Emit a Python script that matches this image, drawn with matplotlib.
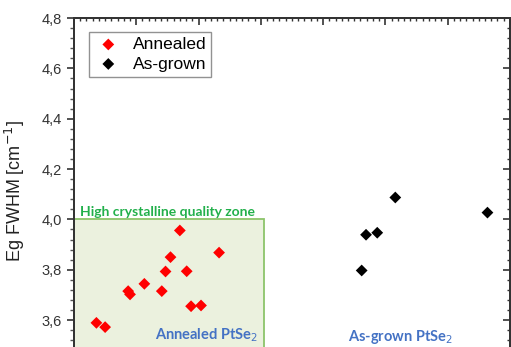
import matplotlib.pyplot as plt
from matplotlib.patches import Rectangle
from matplotlib.ticker import MultipleLocator, AutoMinorLocator, FuncFormatter

# annealed samples (red)
annealed_x = [0.36, 0.50, 0.87, 0.90, 1.13, 1.41, 1.47, 1.55, 1.70, 1.81, 1.88, 2.04, 2.33]
annealed_y = [3.589, 3.572, 3.715, 3.702, 3.744, 3.715, 3.793, 3.850, 3.956, 3.794, 3.655, 3.658, 3.868]

# as-grown samples (black)
asgrown_x = [4.62, 4.69, 4.87, 5.16, 6.64]
asgrown_y = [3.797, 3.939, 3.947, 4.087, 4.027]

zone_limit = 4.0
zone_xmax = 3.05

plt.rcParams['font.family'] = ['Liberation Sans', 'DejaVu Sans']

fig = plt.figure(figsize=(5.11, 3.47), dpi=100)
ax = fig.add_axes([0.1448, 0.0, 0.853, 0.948])

# high crystalline quality zone
ax.add_patch(Rectangle((0, 3.4), zone_xmax, zone_limit - 3.4,
                       facecolor='#ebf1de', edgecolor='#8cc46a', lw=1.3, zorder=1))

ax.scatter(annealed_x, annealed_y, marker='D', s=36, color='#ff0000',
           edgecolors='none', label='Annealed', zorder=3)
ax.scatter(asgrown_x, asgrown_y, marker='D', s=36, color='black',
           edgecolors='none', label='As-grown', zorder=3)

ax.set_xlim(0, 7)
ax.set_ylim(3.493, 4.8)

comma = FuncFormatter(lambda v, p: ('%.1f' % v).replace('.', ','))
ax.yaxis.set_major_locator(MultipleLocator(0.2))
ax.yaxis.set_minor_locator(AutoMinorLocator(5))
ax.yaxis.set_major_formatter(comma)
ax.xaxis.set_major_locator(MultipleLocator(1))
ax.xaxis.set_minor_locator(AutoMinorLocator(10))
ax.tick_params(axis='y', which='major', direction='out', length=5, width=1.2,
               labelsize=10.5, colors='#333333', labelcolor='#333333')
ax.tick_params(axis='y', which='minor', direction='out', length=3, width=1, colors='#555555')
ax.tick_params(axis='x', which='both', bottom=False, labelbottom=False,
               top=True, direction='in', colors='#333333')
ax.tick_params(axis='x', which='major', length=5, width=1.2)
ax.tick_params(axis='x', which='minor', length=2.5, width=1)

# mirrored right axis with inward ticks
ax2 = ax.twinx()
ax2.set_ylim(ax.get_ylim())
ax2.yaxis.set_major_locator(MultipleLocator(0.2))
ax2.yaxis.set_minor_locator(AutoMinorLocator(5))
ax2.tick_params(axis='y', which='both', direction='in', labelright=False, colors='#333333')
ax2.tick_params(axis='y', which='major', length=5, width=1.2)
ax2.tick_params(axis='y', which='minor', length=2.5, width=1)

for a in (ax, ax2):
    for s in ['left', 'right', 'top']:
        a.spines[s].set_linewidth(1.3)
        a.spines[s].set_color('#333333')
    a.spines['bottom'].set_visible(False)

ax.set_ylabel('Eg FWHM [cm$^{-1}$]', fontsize=13, color='#222222')
ax.yaxis.set_label_coords(-0.108, 0.474)

leg = ax.legend(loc='upper left', bbox_to_anchor=(0.015, 0.985), fontsize=12.5,
                frameon=True, fancybox=False, edgecolor='#777777',
                handletextpad=0.6, borderpad=0.3, labelspacing=0.25, handlelength=1.6)
leg.get_frame().set_linewidth(1.0)

ax.text(0.09, 4.005, 'High crystalline quality zone', color='#22b04b',
        fontsize=10, fontweight='bold', family=['Lato', 'DejaVu Sans'],
        va='bottom', ha='left', zorder=4)
ax.text(1.3, 3.54, 'Annealed PtSe$_2$', color='#4472c4', fontsize=10.5,
        fontweight='bold', family=['Lato', 'DejaVu Sans'], va='center', ha='left', zorder=4)
ax.text(4.4, 3.533, 'As-grown PtSe$_2$', color='#4472c4', fontsize=10.5,
        fontweight='bold', family=['Lato', 'DejaVu Sans'], va='center', ha='left', zorder=4)

fig.savefig('out.png', dpi=100)
